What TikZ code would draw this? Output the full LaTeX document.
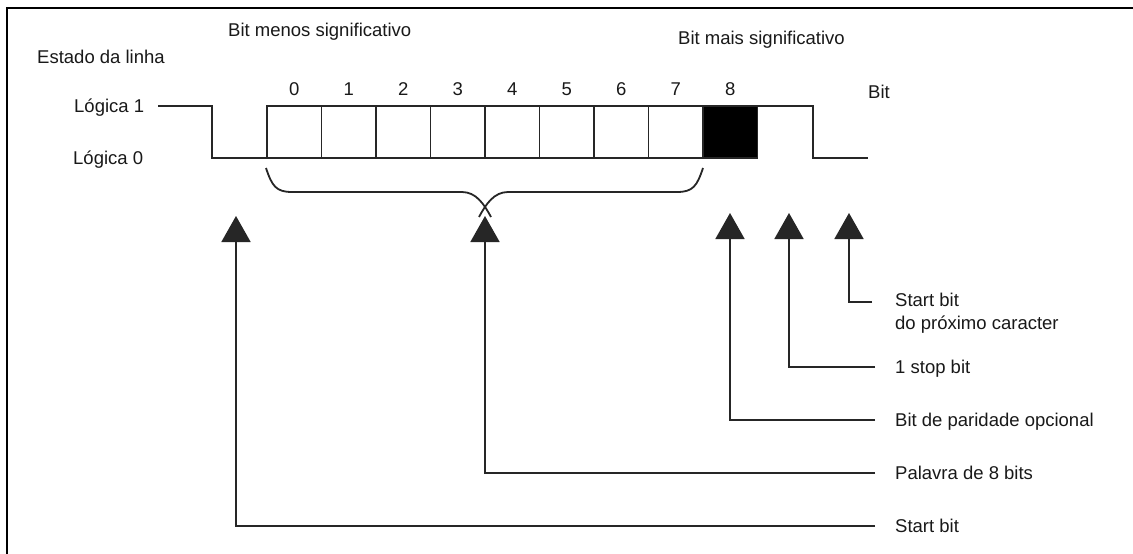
\documentclass[tikz,border=0pt]{standalone}
\usepackage{fontspec}
\setmainfont{Liberation Sans}
\usetikzlibrary{arrows.meta}
\begin{document}
\begin{tikzpicture}[x=1pt,y=-1pt,
  ln/.style={line width=1.8pt,draw=black!85},
  txt/.style={font=\fontsize{18.5}{23}\selectfont,inner sep=0pt,text=black!90},
  bitbox/.style={ln,minimum width=54.5pt,minimum height=52pt,inner sep=0pt,outer sep=0pt},
  arr/.style={ln,-{Triangle[width=29pt,length=26pt]}},
  frame/.style={line width=2.5pt,draw=black}
]
\useasboundingbox (0,0) rectangle (1133,554);
\fill[white] (0,0) rectangle (1133,554);
% frame (top and left only)
\draw[frame] (6,8) -- (1133,8);
\draw[frame] (7,7) -- (7,554);

% left labels
\node[txt,anchor=base west] (estado) at (37,63.5) {Estado da linha};
\node[txt,anchor=base west] (l1) at (74,112.5) {Lógica 1};
\node[txt,anchor=base west] (l0) at (73,164.5) {Lógica 0};
\node[txt,anchor=base west] (menos) at (228,36.5) {Bit menos significativo};
\node[txt,anchor=base west] (mais) at (678,44.5) {Bit mais significativo};
\node[txt,anchor=base west] (bitlbl) at (868,98.5) {Bit};

% bit boxes
\foreach \i in {0,...,7}
  \node[bitbox,label={[txt,label distance=10pt]above:\i}] (b\i) at ({294.25+54.5*\i},132) {};
\node[bitbox,fill=black,label={[txt,label distance=10pt]above:8}] (b8) at (730.25,132) {};

% line signal
\coordinate (s0) at (158,106);
\coordinate (s1) at (212,106);
\coordinate (s2) at (212,158);
\coordinate (e1) at (813,106);
\coordinate (e2) at (813,158);
\coordinate (e3) at (868,158);
\draw[ln] (s0) -- (s1) -- (s2) -- (b0.south west);
\draw[ln] (b8.north east) -- (e1) -- (e2) -- (e3);

% brace (two halves crossing above the arrow)
\coordinate (bl) at (266,168);
\coordinate (br) at (703,168);
\coordinate (btl) at (491,217);
\coordinate (btr) at (479,217);
\draw[ln] (bl) .. controls (272,186) and (276,192) .. (292,192) -- (462,192) .. controls (476,192) and (484,204) .. (btl);
\draw[ln] (br) .. controls (697,186) and (693,192) .. (677,192) -- (508,192) .. controls (494,192) and (486,204) .. (btr);

% arrow tips
\coordinate (tstart) at (236,216);
\coordinate (tword) at (485,216);
\coordinate (tpar) at (730,213);
\coordinate (tstop) at (789,213);
\coordinate (tnext) at (849,213);

% right labels
\node[txt,anchor=north west,align=left] (lnext) at (895,293) {Start bit\\do próximo caracter};
\node[txt,anchor=base west] (lstop) at (895,373.5) {1 stop bit};
\node[txt,anchor=base west] (lpar) at (895,426.5) {Bit de paridade opcional};
\node[txt,anchor=base west] (lword) at (895,479.5) {Palavra de 8 bits};
\node[txt,anchor=base west] (lstart) at (895,532.5) {Start bit};

% connectors
\draw[arr] ([xshift=-23pt,yshift=-9pt]lnext.north west) -| (tnext);
\draw[arr] ([xshift=-20pt,yshift=6.5pt]lstop.base west) -| (tstop);
\draw[arr] ([xshift=-20pt,yshift=6.5pt]lpar.base west) -| (tpar);
\draw[arr] ([xshift=-20pt,yshift=6.5pt]lword.base west) -| (tword);
\draw[arr] ([xshift=-20pt,yshift=6.5pt]lstart.base west) -| (tstart);
\end{tikzpicture}
\end{document}
